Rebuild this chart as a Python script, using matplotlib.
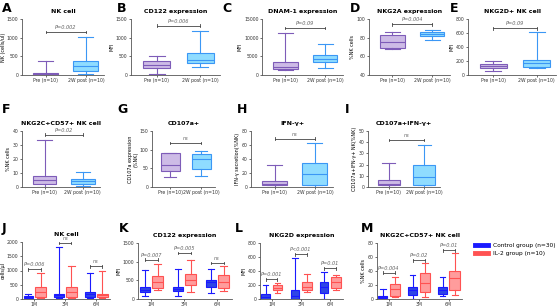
import matplotlib
matplotlib.use("Agg")
import matplotlib.pyplot as plt
from matplotlib.lines import Line2D

# box stats: [whisker low, q1, median, q3, whisker high]
groups_2 = ["Pre (n=10)", "2W post (n=10)"]
months = ["1M", "3M", "6M"]

A_pre = [0, 0, 18, 45, 366]
A_post = [27, 116, 241, 366, 1009]
B_pre = [27, 179, 268, 384, 518]
B_post = [205, 312, 402, 580, 1179]
C_pre = [1339, 1607, 2143, 3482, 11160]
C_post = [1786, 3393, 4196, 5357, 8214]
D_pre = [67.5, 69.3, 75.7, 82.9, 85.7]
D_post = [77.5, 81.8, 83.9, 86.4, 88.2]
E_pre = [51, 94, 131, 164, 196]
E_post = [103, 112, 168, 220, 608]
F_pre = [0, 2.1, 5.2, 8.2, 33.9]
F_post = [0.5, 2.4, 4.0, 5.6, 10.6]
G_pre = [26.5, 43, 59, 90, 92]
G_post = [30, 48, 74, 88, 96]
H_pre = [0, 2.8, 4.7, 8, 31]
H_post = [0, 3.3, 18.8, 35, 63.5]
I_pre = [0, 1.5, 2.9, 6.4, 21]
I_post = [0, 2, 9.3, 20, 37.8]

J_ctrl = [[0, 24, 59, 106, 165], [24, 71, 129, 188, 1812], [24, 82, 165, 259, 906]]
J_il2 = [[24, 82, 259, 412, 906], [24, 82, 235, 412, 1165], [24, 71, 129, 188, 988]]
K_ctrl = [[89, 179, 250, 321, 786], [71, 214, 268, 321, 804], [161, 321, 446, 518, 812]]
K_il2 = [[250, 286, 455, 607, 946], [187, 384, 518, 679, 1054], [223, 295, 446, 652, 893]]
L_ctrl = [[0, 0, 28, 71, 202], [0, 5, 38, 122, 588], [0, 85, 169, 249, 390]]
L_il2 = [[85, 122, 155, 202, 235], [94, 132, 169, 249, 358], [132, 155, 249, 310, 343]]
M_ctrl = [[0, 0.9, 2.8, 4.7, 14], [0, 6, 13, 17, 34.4], [3.8, 7, 12.2, 16.5, 32]]
M_il2 = [[2.8, 3.8, 14, 21.6, 31], [2.4, 10, 22.6, 37.6, 51.8], [6, 12.2, 29.6, 40.5, 66]]

J_p = ["P=0.006", "ns", "ns"]
K_p = ["P=0.007", "P=0.005", "ns"]
L_p = ["P=0.001", "P<0.001", "P=0.01"]
M_p = ["P=0.004", "P=0.02", "P=0.01"]
J_py = [1050, 1965, 1147]
K_py = [1054, 1232, 964]
L_py = [282, 640, 438]
M_py = [37.6, 55.5, 69.6]

PURPLE_F, PURPLE_E = "#cdbbe6", "#7e5cb8"
CYAN_F, CYAN_E = "#8fdcff", "#3b97f5"
BLUE_F, BLUE_E = "#2f45e6", "#1a1aff"
RED_F, RED_E = "#ff9c9c", "#ff5252"

W, H = 560, 307
fig = plt.figure(figsize=(5.6, 3.07), dpi=100)


def make_ax(x0, x1, ytop, ybot):
    ax = fig.add_axes([x0 / W, 1 - ybot / H, (x1 - x0) / W, (ybot - ytop) / H])
    for s in ["top", "right"]:
        ax.spines[s].set_visible(False)
    for s in ["left", "bottom"]:
        ax.spines[s].set_color("#555555")
        ax.spines[s].set_linewidth(0.6)
    ax.tick_params(labelsize=3.3, width=0.5, length=1.5, pad=1, colors="#333333")
    return ax


def stats(v):
    return dict(whislo=v[0], q1=v[1], med=v[2], q3=v[3], whishi=v[4], fliers=[])


def box(ax, v, pos, face, edge, width):
    ax.bxp([stats(v)], positions=[pos], widths=width, patch_artist=True,
           showfliers=False, capwidths=width * 0.6,
           boxprops=dict(facecolor=face, edgecolor=edge, linewidth=0.8),
           medianprops=dict(color=edge, linewidth=0.8),
           whiskerprops=dict(color=edge, linewidth=0.8),
           capprops=dict(color=edge, linewidth=0.8))


def bracket(ax, x1, x2, y, text, h):
    ax.plot([x1, x2], [y, y], color="#444444", lw=0.6)
    ax.plot([x1, x1], [y - h, y + h], color="#444444", lw=0.6)
    ax.plot([x2, x2], [y - h, y + h], color="#444444", lw=0.6)
    ax.text((x1 + x2) / 2, y + 1.5 * h, text, ha="center", va="bottom",
            fontsize=3.6, style="italic", color="#666666")


def letter(x, y, s):
    fig.text(x / W, 1 - y / H, s, fontsize=9, fontweight="bold", va="top", ha="left")


def two_group(pos, pre, post, title, ylabel, ylim, yticks, p, py):
    ax = make_ax(*pos)
    box(ax, pre, 1, PURPLE_F, PURPLE_E, 0.62)
    box(ax, post, 2, CYAN_F, CYAN_E, 0.62)
    ax.set_xlim(0.41, 2.45)
    ax.set_ylim(*ylim)
    ax.set_yticks(yticks)
    ax.set_xticks([1, 2])
    ax.set_xticklabels(groups_2)
    ax.set_ylabel(ylabel, fontsize=3.5, labelpad=1)
    ax.set_title(title, fontsize=4.5, fontweight="bold", pad=4)
    bracket(ax, 1, 2, py, p, (ylim[1] - ylim[0]) * 0.025)
    return ax


def month_group(pos, ctrl, il2, title, ylabel, ylim, yticks, ps, pys):
    ax = make_ax(*pos)
    for i in range(3):
        box(ax, ctrl[i], i + 1 - 0.2, BLUE_F, BLUE_E, 0.3)
        box(ax, il2[i], i + 1 + 0.2, RED_F, RED_E, 0.34)
        bracket(ax, i + 1 - 0.2, i + 1 + 0.2, pys[i], ps[i], (ylim[1] - ylim[0]) * 0.025)
    ax.set_xlim(0.6, 3.45)
    ax.set_ylim(*ylim)
    ax.set_yticks(yticks)
    ax.set_xticks([1, 2, 3])
    ax.set_xticklabels(months)
    ax.set_ylabel(ylabel, fontsize=3.5, labelpad=1)
    ax.set_title(title, fontsize=4.5, fontweight="bold", pad=4)
    return ax


# row 1
two_group((22, 104, 19, 75), A_pre, A_post, "NK cell", "NK (cells/ul)",
          (0, 1500), [0, 500, 1000, 1500], "P=0.002", 1152)
two_group((131, 220, 19, 75), B_pre, B_post, "CD122 expression", "MFI",
          (0, 1500), [0, 500, 1000, 1500], "P=0.006", 1321)
two_group((262, 343, 19, 75), C_pre, C_post, "DNAM-1 expression", "MFI",
          (0, 15000), [0, 5000, 10000, 15000], "P=0.09", 12589)
two_group((369, 450, 19, 75), D_pre, D_post, "NKG2A expression", "%NK cells",
          (40, 100), [40, 60, 80, 100], "P=0.004", 94.3)
two_group((468, 556, 19, 75), E_pre, E_post, "NKG2D+ NK cell", "MFI",
          (0, 800), [0, 200, 400, 600, 800], "P=0.09", 669)

# row 2
two_group((22, 100, 131, 187), F_pre, F_post, "NKG2C+CD57+ NK cell", "%NK cells",
          (0, 40), [0, 10, 20, 30, 40], "P=0.02", 37.4)
two_group((152, 215, 131, 187), G_pre, G_post, "CD107a+", "CD107a expression\n(%NK)",
          (0, 150), [0, 50, 100, 150], "ns", 118)
two_group((251, 333, 131, 187), H_pre, H_post, "IFN-γ+", "IFN-γ secretion(%NK)",
          (0, 80), [0, 20, 40, 60, 80], "ns", 69)
two_group((368, 440, 131, 187), I_pre, I_post, "CD107a+IFN-γ+", "CD107a+IFN-γ+ NK(%NK)",
          (0, 50), [0, 10, 20, 30, 40, 50], "ns", 42)

# row 3
month_group((22, 110, 242, 299), J_ctrl, J_il2, "NK cell", "cells/μl",
            (0, 2000), [0, 500, 1000, 1500, 2000], J_p, J_py)
month_group((138, 232, 243, 299), K_ctrl, K_il2, "CD122 expression", "MFI",
            (0, 1500), [0, 500, 1000, 1500], K_p, K_py)
month_group((260, 343, 243, 299), L_ctrl, L_il2, "NKG2D expression", "MFI",
            (0, 800), [0, 200, 400, 600, 800], L_p, L_py)
mx = month_group((377, 462, 243, 299), M_ctrl, M_il2, "NKG2C+CD57+ NK cell", "%NK cells",
                 (0, 80), [0, 20, 40, 60, 80], M_p, M_py)

handles = [Line2D([0], [0], color=BLUE_E, lw=3.5), Line2D([0], [0], color=RED_E, lw=3.5)]
fig.legend(handles, ["Control group (n=30)", "IL-2 group (n=10)"],
           loc="upper left", bbox_to_anchor=(470 / W, 1 - 238 / H), frameon=False,
           fontsize=4.2, handlelength=2.2, labelspacing=0.5)

# panel letters
for x, y, s in [(2, 2, "A"), (117, 2, "B"), (222, 2, "C"), (350, 2, "D"), (450, 2, "E"),
                (2, 103, "F"), (117, 103, "G"), (237, 103, "H"), (345, 103, "I"),
                (2, 222, "J"), (119, 222, "K"), (235, 222, "L"), (361, 222, "M")]:
    letter(x, y, s)

fig.savefig("out.png", dpi=100, facecolor="white")
